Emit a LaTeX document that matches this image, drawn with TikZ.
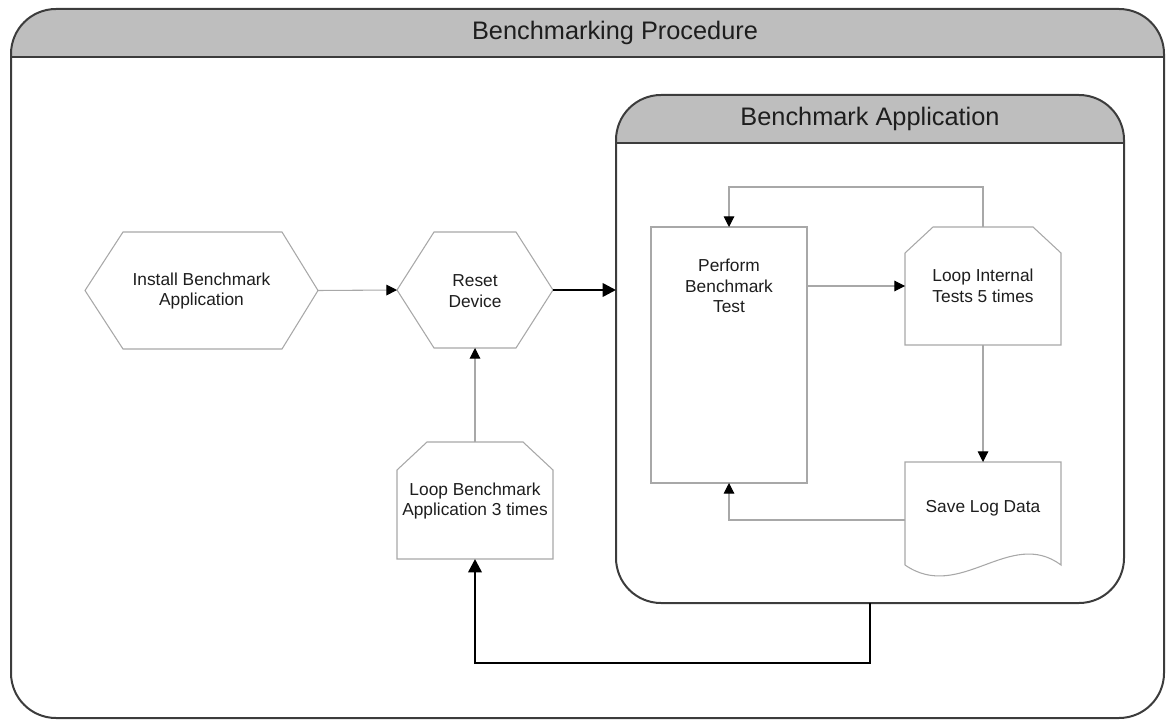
\documentclass[tikz,border=0pt]{standalone}
\usepackage{fontspec}
\setmainfont{Liberation Sans}
\usetikzlibrary{arrows.meta,calc}
\definecolor{framegray}{HTML}{3C3C3C}
\definecolor{hdrgray}{HTML}{BEBEBE}
\definecolor{nodegray}{HTML}{A8A8A8}
\definecolor{txtgray}{HTML}{1E1E1E}
\begin{document}
\begin{tikzpicture}[x=0.75pt,y=-0.75pt,
  framestyle/.style={draw=framegray, line width=1.5pt},
  outline/.style={draw=nodegray, line width=0.8pt, fill=white},
  holder/.style={draw=none, inner sep=0pt, outer sep=0pt, rectangle},
  txt/.style={text=txtgray, font=\fontsize{13}{15.5}\selectfont, align=center},
  titletxt/.style={text=txtgray, font=\fontsize{19}{22}\selectfont},
  thinarrow/.style={draw=nodegray, line width=0.8pt, -{Triangle[color=black,length=8pt,width=8pt]}},
  thickarrow/.style={draw=black, line width=1.9pt, -{Triangle[length=10pt,width=10pt]}},
]
\useasboundingbox (0,0) rectangle (1166,720);

% outer frame
\node[holder, minimum width=864.75pt, minimum height=531.75pt] (proc) at (587.5,363.5) {};
\begin{scope}
  \clip (0,0) rectangle (1166,57);
  \fill[hdrgray, rounded corners=33.75pt] (proc.north west) rectangle (proc.south east);
\end{scope}
\draw[framestyle, rounded corners=33.75pt] (proc.north west) rectangle (proc.south east);
\draw[framestyle] (11,57) -- (1164,57);
\node[titletxt] (proctitle) at (615,33) {Benchmarking Procedure};

% inner frame
\node[holder, minimum width=381pt, minimum height=381pt] (app) at (870,349) {};
\begin{scope}
  \clip (0,0) rectangle (1166,143);
  \fill[hdrgray, rounded corners=33.75pt] (app.north west) rectangle (app.south east);
\end{scope}
\draw[framestyle, rounded corners=33.75pt] (app.north west) rectangle (app.south east);
\draw[framestyle] (616,143) -- (1124,143);
\node[titletxt] (apptitle) at (870,119) {Benchmark Application};

% Install hexagon
\node[holder, minimum width=174.75pt, minimum height=87.75pt] (install) at (201.5,290.5) {};
\draw[outline] (install.west) -- (123,232) -- (282,232) -- (install.east) -- (282,349) -- (123,349) -- cycle;
\node[txt] (installtxt) at (201.5,291) {Install Benchmark\\Application};

% Reset hexagon
\node[holder, minimum width=117pt, minimum height=87pt] (reset) at (475,290) {};
\draw[outline] (reset.west) -- (434,232) -- (516,232) -- (reset.east) -- (516,348) -- (434,348) -- cycle;
\node[txt] (resettxt) at (475,291) {Reset\\Device};

% Loop Benchmark
\node[holder, minimum width=117pt, minimum height=87.75pt] (loopbench) at (475,500.5) {};
\draw[outline] (397,559) -- (397,470) -- (427,442) -- (523,442) -- (553,470) -- (553,559) -- cycle;
\node[txt] (loopbenchtxt) at (475,501) {Loop Benchmark\\Application 3 times};

% Perform
\node[holder, minimum width=117pt, minimum height=192pt] (perform) at (729,355) {};
\draw[outline] (perform.north west) rectangle (perform.south east);
\node[txt] (performtxt) at (729,286) {Perform\\Benchmark\\Test};

% Loop internal
\node[holder, minimum width=117pt, minimum height=88.5pt] (loopint) at (983,286) {};
\draw[outline] (905,345) -- (905,253) -- (933,227) -- (1033,227) -- (1061,253) -- (1061,345) -- cycle;
\node[txt] (loopinttxt) at (983,286) {Loop Internal\\Tests 5 times};

% Save log data
\node[holder, minimum width=117pt, minimum height=87pt] (save) at (983,520) {};
\draw[outline] (905,565) -- (905,462) -- (1061,462) -- (1061,565) .. controls (1010,527) and (960,603) .. (905,565);
\node[txt] (savetxt) at (983,508) {Save Log Data};

% connectors
\draw[thinarrow] (install.east) -- (reset.west);
\draw[thickarrow] (reset.east) -- (reset.east -| app.west);
\draw[thinarrow] (loopbench.north) -- (reset.south);
\draw[thinarrow] (perform.east |- loopint.west) -- (loopint.west);
\draw[thinarrow] (loopint.north) -- ++(0,-40) -| (perform.north);
\draw[thinarrow] (loopint.south) -- (save.north);
\draw[thinarrow] (save.west) -| (perform.south);
\draw[thickarrow] (app.south) -- ++(0,60) -| (loopbench.south);
\end{tikzpicture}
\end{document}
